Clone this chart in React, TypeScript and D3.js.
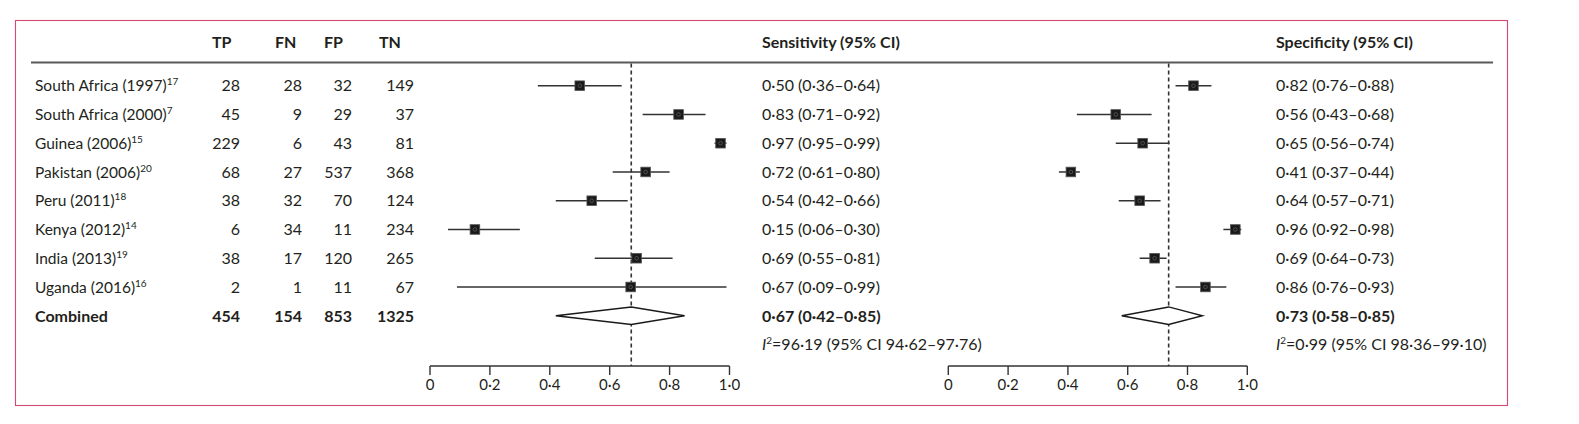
import React from "react";
import * as d3 from "d3";

const studies = [
  "South Africa (1997)",
  "South Africa (2000)",
  "Guinea (2006)",
  "Pakistan (2006)",
  "Peru (2011)",
  "Kenya (2012)",
  "India (2013)",
  "Uganda (2016)",
];
const refs = ["17", "7", "15", "20", "18", "14", "19", "16"];
const TP = [28, 45, 229, 68, 38, 6, 38, 2];
const FN = [28, 9, 6, 27, 32, 34, 17, 1];
const FP = [32, 29, 43, 537, 70, 11, 120, 11];
const TN = [149, 37, 81, 368, 124, 234, 265, 67];
const combinedCounts = [454, 154, 853, 1325];

const sens = [0.5, 0.83, 0.97, 0.72, 0.54, 0.15, 0.69, 0.67];
const sensLo = [0.36, 0.71, 0.95, 0.61, 0.42, 0.06, 0.55, 0.09];
const sensHi = [0.64, 0.92, 0.99, 0.8, 0.66, 0.3, 0.81, 0.99];
const spec = [0.82, 0.56, 0.65, 0.41, 0.64, 0.96, 0.69, 0.86];
const specLo = [0.76, 0.43, 0.56, 0.37, 0.57, 0.92, 0.64, 0.76];
const specHi = [0.88, 0.68, 0.74, 0.44, 0.71, 0.98, 0.73, 0.93];

const sensPooled = { est: 0.67, lo: 0.42, hi: 0.85, plot: 0.672 };
const specPooled = { est: 0.73, lo: 0.58, hi: 0.85, plot: 0.737 };
const sensI2 = "=96·19 (95% CI 94·62–97·76)";
const specI2 = "=0·99 (95% CI 98·36–99·10)";

const ticks = [0, 0.2, 0.4, 0.6, 0.8, 1.0];

const FONT = "Lato, 'Open Sans', sans-serif";
const TXT = "#231f20";

const f2 = (v: number) => d3.format(".2f")(v).replace(".", "·");
const fTick = (v: number) => (v === 0 ? "0" : d3.format(".1f")(v).replace(".", "·"));
const ciText = (e: number, l: number, h: number) => `${f2(e)} (${f2(l)}–${f2(h)})`;

export default function App() {
  const y = d3.scaleLinear().domain([0, 9]).range([85.7, 344.5]);
  const xSens = d3.scaleLinear().domain([0, 1]).range([430, 729.5]);
  const xSpec = d3.scaleLinear().domain([0, 1]).range([948.3, 1247.3]);
  const axisY = 366;
  const headerY = 48;
  const ruleY = 62.5;

  const numCols = [
    { data: TP, right: 240, head: "TP", hx: 212 },
    { data: FN, right: 302, head: "FN", hx: 275 },
    { data: FP, right: 352, head: "FP", hx: 324 },
    { data: TN, right: 414, head: "TN", hx: 379 },
  ];

  const forest = (
    x: d3.ScaleLinear<number, number>,
    est: number[],
    lo: number[],
    hi: number[],
    pooled: { est: number; lo: number; hi: number; plot: number },
    key: string
  ) => {
    const yc = y(8);
    const diamond = [
      [x(pooled.lo), yc],
      [x(pooled.plot), yc - 8.8],
      [x(pooled.hi), yc],
      [x(pooled.plot), yc + 8.8],
    ];
    return (
      <g key={key}>
        <line
          x1={x(pooled.plot)}
          x2={x(pooled.plot)}
          y1={ruleY + 1}
          y2={axisY}
          stroke="#333"
          strokeWidth={1.6}
          strokeDasharray="4,3"
        />
        {est.map((e, i) => (
          <g key={i}>
            <line x1={x(lo[i])} x2={x(hi[i])} y1={y(i)} y2={y(i)} stroke="#333" strokeWidth={1.5} />
            <rect
              x={x(e) - 4.8}
              y={y(i) - 4.8}
              width={9.6}
              height={9.6}
              fill="#1a1a1a"
              stroke="#555"
              strokeWidth={0.8}
            />
            <circle cx={x(e)} cy={y(i)} r={1.8} fill="none" stroke="#666" strokeWidth={0.7} />
          </g>
        ))}
        <polygon
          points={diamond.map((p) => p.join(",")).join(" ")}
          fill="#fff"
          stroke="#1a1a1a"
          strokeWidth={1.4}
        />
        <line x1={x(0)} x2={x(1)} y1={axisY} y2={axisY} stroke="#333" strokeWidth={1.4} />
        {ticks.map((t) => (
          <g key={t}>
            <line x1={x(t)} x2={x(t)} y1={axisY} y2={axisY + 9} stroke="#333" strokeWidth={1.4} />
            <text
              x={x(t)}
              y={390}
              textAnchor="middle"
              fontSize={15}
              fill={TXT}
              fontFamily={FONT}
            >
              {fTick(t)}
            </text>
          </g>
        ))}
      </g>
    );
  };

  const ciColumn = (
    x0: number,
    title: string,
    est: number[],
    lo: number[],
    hi: number[],
    pooled: { est: number; lo: number; hi: number },
    i2: string,
    key: string
  ) => (
    <g key={key} fontFamily={FONT} fill={TXT}>
      <text x={x0} y={headerY} fontSize={16} fontWeight="bold">
        {title}
      </text>
      {est.map((e, i) => (
        <text key={i} x={x0} y={y(i)} dy="0.36em" fontSize={16}>
          {ciText(e, lo[i], hi[i])}
        </text>
      ))}
      <text x={x0} y={y(8)} dy="0.36em" fontSize={16} fontWeight="bold">
        {ciText(pooled.est, pooled.lo, pooled.hi)}
      </text>
      <text x={x0} y={y(9)} dy="0.36em" fontSize={16}>
        <tspan fontStyle="italic">I</tspan>
        <tspan fontSize={10} dy="-6">2</tspan>
        <tspan dy="6">{i2}</tspan>
      </text>
    </g>
  );

  return (
    <svg
      width={1579}
      height={424}
      style={{ position: "absolute", left: 0, top: 0, background: "#fff" }}
    >
      <rect x={15.5} y={20.5} width={1492} height={385} fill="none" stroke="#d04a72" strokeWidth={1.1} />
      <line x1={31} x2={1493} y1={ruleY} y2={ruleY} stroke="#5a5a5a" strokeWidth={2} />

      <g fontFamily={FONT} fill={TXT}>
        {numCols.map((c) => (
          <text key={c.head} x={c.hx} y={headerY} fontSize={16} fontWeight="bold">
            {c.head}
          </text>
        ))}
        {studies.map((s, i) => (
          <text key={s} x={35} y={y(i)} dy="0.36em" fontSize={15.5}>
            {s}
            <tspan fontSize={10} dy="-6">
              {refs[i]}
            </tspan>
          </text>
        ))}
        <text x={35} y={y(8)} dy="0.36em" fontSize={16} fontWeight="bold">
          Combined
        </text>
        {numCols.map((c, ci) => (
          <g key={c.head}>
            {c.data.map((v, i) => (
              <text key={i} x={c.right} y={y(i)} dy="0.36em" fontSize={16} textAnchor="end">
                {v}
              </text>
            ))}
            <text x={c.right} y={y(8)} dy="0.36em" fontSize={16} textAnchor="end" fontWeight="bold">
              {combinedCounts[ci]}
            </text>
          </g>
        ))}
      </g>

      {forest(xSens, sens, sensLo, sensHi, sensPooled, "fs")}
      {forest(xSpec, spec, specLo, specHi, specPooled, "fp")}
      {ciColumn(762, "Sensitivity (95% CI)", sens, sensLo, sensHi, sensPooled, sensI2, "cs")}
      {ciColumn(1276, "Specificity (95% CI)", spec, specLo, specHi, specPooled, specI2, "cp")}
    </svg>
  );
}
